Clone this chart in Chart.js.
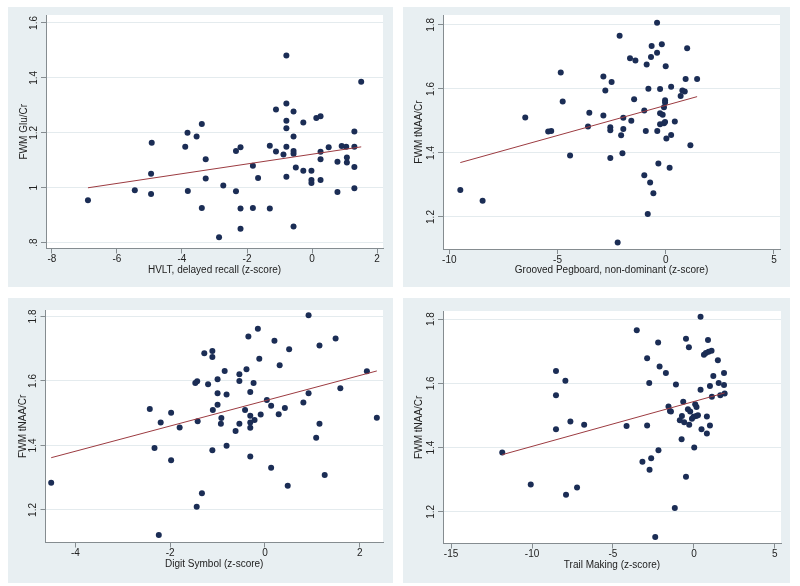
<!DOCTYPE html>
<html>
<head>
<meta charset="utf-8">
<script src="https://cdn.jsdelivr.net/npm/chart.js@4.4.1/dist/chart.umd.min.js"></script>
<style>
  html, body { margin: 0; padding: 0; background: #fff; }
  body { width: 800px; height: 586px; position: relative; overflow: hidden; }
  .panel { position: absolute; background: #e8eff2; }
  .panel canvas { display: block; }
</style>
</head>
<body>
<div class="panel" style="left:8px;top:7px;width:385px;height:280px"><canvas id="c1" width="385" height="280"></canvas></div>
<div class="panel" style="left:403px;top:7px;width:387px;height:280px"><canvas id="c2" width="387" height="280"></canvas></div>
<div class="panel" style="left:8px;top:298px;width:385px;height:285px"><canvas id="c3" width="385" height="285"></canvas></div>
<div class="panel" style="left:403px;top:298px;width:387px;height:285px"><canvas id="c4" width="387" height="285"></canvas></div>
<script>
// HVLT, delayed recall vs FWM Glu/Cr
var hvltX = [-6.89,-5.45,-4.93,-4.95,-4.95,-3.90,-3.83,-3.82,-3.55,-3.39,-3.39,-3.27,-3.27,-2.86,-2.73,-2.34,-2.34,-2.20,-2.20,-2.20,-1.82,-1.82,-1.66,-1.30,-1.30,-1.11,-1.11,-0.88,-0.79,-0.79,-0.79,-0.79,-0.79,-0.79,-0.57,-0.57,-0.57,-0.57,-0.57,-0.50,-0.27,-0.27,-0.02,-0.02,-0.02,0.13,0.26,0.26,0.26,0.26,0.51,0.78,0.78,0.91,1.05,1.07,1.07,1.30,1.30,1.30,1.30,1.51];
var hvltY = [0.955,0.991,1.164,1.051,0.977,1.149,1.200,0.988,1.187,1.232,0.926,1.104,1.034,0.820,1.008,0.987,1.134,1.148,0.925,0.851,1.080,0.926,1.036,1.153,0.925,1.285,1.132,1.121,1.482,1.307,1.244,1.217,1.149,1.040,1.278,1.187,1.134,1.124,0.859,1.074,1.238,1.062,1.062,1.028,1.017,1.254,1.260,1.131,1.104,1.028,1.148,1.095,0.985,1.152,1.149,1.110,1.092,1.205,1.149,1.076,0.998,1.386];
var hvltFitX = [-6.89, 1.51];
var hvltFitY = [1.000, 1.149];

// Grooved Pegboard, non-dominant vs FWM tNAA/Cr
var pegX = [-9.49,-8.46,-6.49,-5.43,-5.29,-4.85,-4.76,-4.42,-3.59,-3.53,-2.88,-2.88,-2.79,-2.56,-2.56,-2.56,-2.50,-2.22,-2.13,-2.06,-2.00,-1.96,-1.96,-1.65,-1.59,-1.46,-1.40,-0.99,-0.99,-0.92,-0.88,-0.83,-0.80,-0.72,-0.68,-0.65,-0.57,-0.40,-0.40,-0.39,-0.34,-0.26,-0.26,-0.26,-0.18,-0.14,-0.08,-0.08,-0.03,-0.03,-0.03,0.00,0.03,0.18,0.25,0.25,0.42,0.69,0.77,0.88,0.92,0.99,1.14,1.45];
var pegY = [1.284,1.251,1.511,1.467,1.469,1.651,1.561,1.392,1.483,1.526,1.639,1.517,1.595,1.480,1.471,1.384,1.622,1.120,1.766,1.455,1.399,1.475,1.510,1.696,1.501,1.568,1.689,1.533,1.330,1.469,1.676,1.209,1.601,1.308,1.700,1.734,1.274,1.807,1.713,1.469,1.367,1.600,1.524,1.490,1.740,1.519,1.543,1.493,1.565,1.558,1.497,1.671,1.445,1.354,1.607,1.456,1.498,1.578,1.595,1.592,1.631,1.727,1.424,1.631];
var pegFitX = [-9.49, 1.45];
var pegFitY = [1.370, 1.576];

// Digit Symbol vs FWM tNAA/Cr
var digitX = [-4.51,-2.43,-2.33,-2.24,-2.20,-1.98,-1.98,-1.80,-1.47,-1.43,-1.44,-1.42,-1.33,-1.28,-1.20,-1.11,-1.11,-1.11,-1.10,-1.00,-1.00,-1.00,-0.92,-0.93,-0.85,-0.81,-0.81,-0.62,-0.54,-0.54,-0.54,-0.42,-0.39,-0.35,-0.31,-0.31,-0.31,-0.31,-0.31,-0.24,-0.22,-0.15,-0.12,-0.09,0.04,0.13,0.13,0.20,0.29,0.31,0.42,0.48,0.51,0.81,0.92,0.92,1.08,1.15,1.15,1.26,1.49,1.59,2.15,2.36];
var digitY = [1.284,1.513,1.392,1.122,1.471,1.501,1.354,1.456,1.594,1.599,1.210,1.475,1.252,1.686,1.590,1.693,1.674,1.385,1.510,1.605,1.562,1.526,1.485,1.467,1.631,1.558,1.399,1.445,1.621,1.600,1.467,1.510,1.636,1.738,1.566,1.492,1.471,1.455,1.366,1.594,1.479,1.762,1.669,1.496,1.541,1.523,1.331,1.725,1.497,1.649,1.516,1.275,1.698,1.533,1.562,1.804,1.424,1.710,1.467,1.308,1.732,1.577,1.630,1.486];
var digitFitX = [-4.51, 2.36];
var digitFitY = [1.362, 1.631];

// Trail Making vs FWM tNAA/Cr
var trailX = [-11.84,-10.08,-8.52,-8.52,-8.52,-7.94,-7.90,-7.63,-7.22,-6.78,-4.16,-3.53,-3.18,-2.89,-2.89,-2.76,-2.74,-2.64,-2.39,-2.21,-2.19,-2.12,-1.73,-1.57,-1.48,-1.42,-1.18,-1.11,-0.87,-0.74,-0.76,-0.66,-0.60,-0.49,-0.49,-0.37,-0.31,-0.29,-0.23,-0.12,-0.02,0.02,0.08,0.14,0.16,0.25,0.41,0.41,0.47,0.62,0.74,0.80,0.80,0.87,0.91,0.99,0.99,1.09,1.11,1.20,1.48,1.53,1.63,1.86,1.86,1.90];
var trailY = [1.385,1.285,1.638,1.563,1.457,1.608,1.253,1.481,1.276,1.471,1.467,1.765,1.356,1.678,1.469,1.601,1.331,1.367,1.122,1.727,1.392,1.652,1.632,1.528,1.514,1.512,1.212,1.596,1.485,1.498,1.426,1.543,1.479,1.739,1.309,1.519,1.712,1.471,1.512,1.490,1.496,1.400,1.535,1.498,1.526,1.501,1.807,1.580,1.457,1.689,1.694,1.497,1.444,1.735,1.698,1.592,1.469,1.701,1.558,1.623,1.672,1.601,1.563,1.632,1.595,1.568];
var trailFitX = [-11.84, 1.90];
var trailFitY = [1.378, 1.570];

// tick values
var hvltXTicks = [-8, -6, -4, -2, 0, 2];
var pegXTicks = [-10, -5, 0, 5];
var digitXTicks = [-4, -2, 0, 2];
var trailXTicks = [-15, -10, -5, 0, 5];
var gluTicks = [0.8, 1, 1.2, 1.4, 1.6];
var naaTicks = [1.2, 1.4, 1.6, 1.8];

Chart.defaults.font.family = '"Liberation Sans", Arial, sans-serif';
Chart.defaults.font.size = 10;
Chart.defaults.color = '#222';

var plotBg = {
  id: 'plotBg',
  beforeDraw: function (chart) {
    var a = chart.chartArea, ctx = chart.ctx;
    ctx.save();
    ctx.fillStyle = '#ffffff';
    ctx.fillRect(a.left, a.top, a.right - a.left, a.bottom - a.top);
    ctx.restore();
  }
};

function stataFmt(v) {
  return String(v).replace(/^0\./, '.').replace(/^-0\./, '-.');
}

function toPoints(xs, ys) {
  return xs.map(function (x, i) { return { x: x, y: ys[i] }; });
}

function makePanel(id, p) {
  var axisColor = '#858c90';
  new Chart(document.getElementById(id), {
    type: 'scatter',
    data: {
      datasets: [
        {
          type: 'line',
          data: toPoints(p.fitX, p.fitY),
          borderColor: '#9c3b41',
          borderWidth: 1,
          pointRadius: 0,
          fill: false
        },
        {
          data: toPoints(p.x, p.y),
          backgroundColor: '#1b2d55',
          borderWidth: 0,
          pointRadius: 3
        }
      ]
    },
    options: {
      responsive: false,
      animation: false,
      layout: { padding: { top: p.padTop, right: p.padRight, left: 0, bottom: 0 } },
      plugins: { legend: { display: false }, tooltip: { enabled: false } },
      scales: {
        x: {
          type: 'linear',
          min: p.xMin,
          max: p.xMax,
          afterBuildTicks: function (axis) { axis.ticks = p.xTicks.map(function (v) { return { value: v }; }); },
          afterFit: function (scale) { scale.height = p.xAxisH; },
          ticks: { autoSkip: false, maxRotation: 0, padding: 0, callback: function (v) { return stataFmt(v); } },
          grid: { drawOnChartArea: false, tickLength: 5, tickColor: axisColor },
          border: { display: true, color: axisColor, width: 1 },
          title: { display: true, text: p.xTitle, padding: { top: 0, bottom: p.xAxisH - 6 - 21.5 } }
        },
        y: {
          type: 'linear',
          min: p.yMin,
          max: p.yMax,
          afterBuildTicks: function (axis) { axis.ticks = p.yTicks.map(function (v) { return { value: v }; }); },
          afterFit: function (scale) { scale.width = p.yAxisW; },
          ticks: { autoSkip: false, minRotation: 90, maxRotation: 90, crossAlign: 'center', padding: p.yTickPad, callback: function (v) { return stataFmt(v); } },
          grid: { color: '#e4ebee', lineWidth: 1, tickLength: 5, tickColor: axisColor },
          border: { display: true, color: axisColor, width: 1 },
          title: { display: true, text: p.yTitle, padding: { top: p.yTitlePad, bottom: 0 } }
        }
      }
    },
    plugins: [plotBg]
  });
}

makePanel('c1', {
  x: hvltX, y: hvltY, fitX: hvltFitX, fitY: hvltFitY,
  xMin: -8.18, xMax: 2.18, yMin: 0.779, yMax: 1.629,
  xTicks: hvltXTicks, yTicks: gluTicks,
  xTitle: 'HVLT, delayed recall (z-score)', yTitle: 'FWM Glu/Cr',
  padTop: 8, padRight: 10, yAxisW: 38, xAxisH: 38.5, yTitlePad: 10, yTickPad: 0
});
makePanel('c2', {
  x: pegX, y: pegY, fitX: pegFitX, fitY: pegFitY,
  xMin: -10.29, xMax: 5.28, yMin: 1.10, yMax: 1.831,
  xTicks: pegXTicks, yTicks: naaTicks,
  xTitle: 'Grooved Pegboard, non-dominant (z-score)', yTitle: 'FWM tNAA/Cr',
  padTop: 8, padRight: 10, yAxisW: 40, xAxisH: 38, yTitlePad: 10.5, yTickPad: 0
});
makePanel('c3', {
  x: digitX, y: digitY, fitX: digitFitX, fitY: digitFitY,
  xMin: -4.63, xMax: 2.49, yMin: 1.099, yMax: 1.820,
  xTicks: digitXTicks, yTicks: naaTicks,
  xTitle: 'Digit Symbol (z-score)', yTitle: 'FWM tNAA/Cr',
  padTop: 12, padRight: 10, yAxisW: 37.5, xAxisH: 40.5, yTitlePad: 9.5, yTickPad: 0
});
makePanel('c4', {
  x: trailX, y: trailY, fitX: trailFitX, fitY: trailFitY,
  xMin: -15.5, xMax: 5.38, yMin: 1.1016, yMax: 1.825,
  xTicks: trailXTicks, yTicks: naaTicks,
  xTitle: 'Trail Making (z-score)', yTitle: 'FWM tNAA/Cr',
  padTop: 13, padRight: 9, yAxisW: 40, xAxisH: 39.5, yTitlePad: 10.5, yTickPad: 0
});
</script>
</body>
</html>
